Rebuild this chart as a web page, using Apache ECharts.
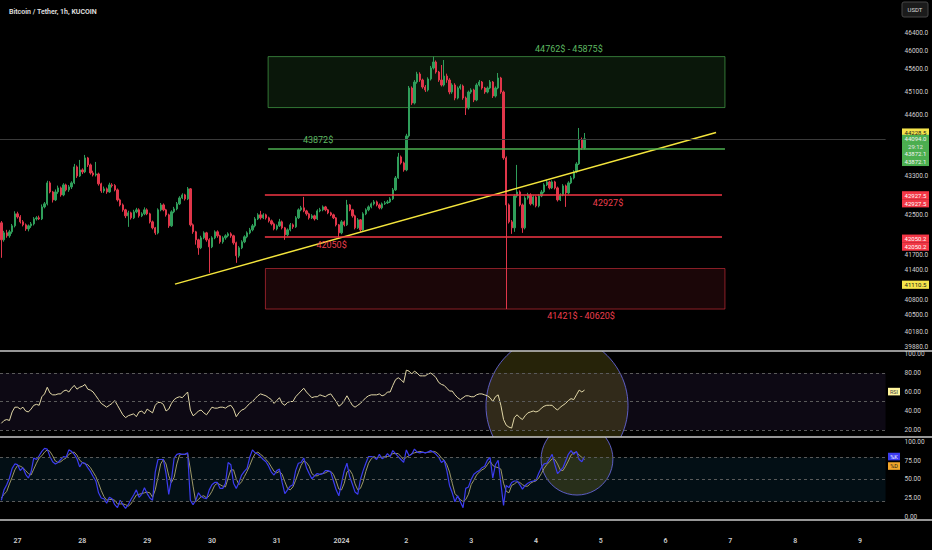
<!DOCTYPE html>
<html><head><meta charset="utf-8">
<script src="https://cdn.jsdelivr.net/npm/echarts@6/dist/echarts.min.js"></script>
<style>html,body{margin:0;padding:0;background:#000;}#c{width:932px;height:550px;}</style>
</head><body><div id="c"></div>
<script>
// ---------------- DATA ----------------
const FIRST_HOUR = -6;            // first candle: 26 Dec 18:00 (hours from 27 Dec 00:00)
const firstOpen = 42343;
const closes = [41998,42139,42079,42160,42282,42527,42465,42363,42302,42220,
42282,42322,42424,42445,42424,42670,42732,43166,42979,42814,
42979,43062,42917,43125,43021,43083,43166,43500,43311,43437,
43395,43689,43542,43374,43332,43353,43146,43000,43042,42979,
43125,43110,43021,42814,42711,42609,42486,42547,42445,42568,
42609,42486,42527,42609,42527,42363,42241,42139,42609,42711,
42609,42506,42282,42568,42629,42732,42855,42917,42835,43042,
42302,42160,41998,41836,42038,42139,41998,41856,42038,42160,
42079,41957,42038,42079,42119,42079,41937,41676,41836,41957,
42059,42139,42200,42282,42424,42506,42445,42506,42445,42384,
42322,42220,42282,42363,42241,42099,42200,42302,42261,42445,
42609,42650,42588,42527,42445,42486,42424,42588,42609,42670,
42609,42547,42506,42445,42302,42139,42363,42302,42711,42609,
42486,42241,42404,42200,42527,42609,42670,42732,42773,42711,
42650,42732,42752,42773,42835,43021,43270,43710,43584,43437,
44154,45186,44861,45317,45492,45361,45208,45143,45383,45624,
45756,45536,45361,45252,45448,45361,45099,45252,44969,45186,
45230,44969,44753,45099,45143,44926,45252,45317,45186,45099,
45186,45317,45012,45186,45405,45099,43689,42711,42363,42241,
42896,42979,42711,42241,42855,42917,42732,42876,42691,42896,
42979,43125,43187,43062,43187,43062,42814,42917,43104,42958,
43166,43270,43395,43563,44069,43899,44094];
const highs = [42380,42180,42200,42200,42320,42580,42570,42500,42400,42330,
42310,42360,42460,42480,42490,42720,42770,43210,43200,43000,
43030,43110,43090,43160,43150,43120,43200,43563,43530,43647,
43470,43752,43710,43570,43420,43605,43380,43170,43090,43070,
43170,43160,43140,43050,42840,42740,42630,42590,42570,42610,
42650,42640,42560,42660,42640,42550,42390,42260,42640,42750,
42740,42630,42530,42600,42670,42770,42890,42950,42940,43080,
43060,42330,42180,42020,42080,42170,42160,42030,42070,42190,
42190,42100,42070,42110,42150,42150,42100,41960,41870,41990,
42090,42170,42240,42320,42460,42540,42588,42540,42530,42470,
42410,42350,42310,42424,42390,42260,42230,42340,42330,42480,
42640,42690,42876,42610,42550,42520,42510,42620,42650,42700,
42690,42630,42570,42530,42460,42320,42400,42390,42814,42730,
42630,42510,42440,42420,42560,42640,42700,42760,42810,42800,
42740,42760,42790,42810,42870,43060,43310,43794,43740,43610,
44200,45230,45220,45360,45540,45530,45390,45250,45420,45670,
45875,45790,45560,45690,45800,45500,45400,45290,45290,45220,
45270,45260,45000,45130,45180,45170,45290,45360,45340,45210,
45220,45360,45340,45220,45514,45430,45130,43720,42740,42400,
42930,43542,43010,42740,42890,42960,42950,42910,42900,42930,
43020,43160,43230,43210,43220,43210,43090,42950,43140,43130,
43200,43310,43430,43600,44324,44120,44217];
const lows = [41636,41960,42040,42040,42120,42250,42430,42330,42270,42180,
42170,42240,42290,42390,42400,42400,42640,42700,42950,42760,
42790,42940,42880,42890,42990,42980,43040,43140,43270,43290,
43350,43370,43500,43340,43300,43300,43110,42960,42960,42940,
42960,43070,42990,42780,42680,42570,42440,42261,42410,42420,
42540,42450,42460,42500,42500,42330,42210,42099,42110,42580,
42580,42470,42241,42260,42540,42600,42710,42830,42800,42810,
42270,42120,41900,41696,41810,42010,41960,41336,41830,42010,
42040,41920,41920,42000,42050,42040,41900,41535,41640,41810,
41930,42030,42110,42170,42250,42400,42410,42420,42410,42350,
42290,42190,42190,42260,42210,41998,42070,42170,42220,42240,
42420,42580,42560,42490,42410,42420,42390,42400,42560,42580,
42580,42520,42480,42420,42270,42038,42110,42270,42280,42580,
42450,42210,42220,42160,42180,42500,42580,42640,42700,42680,
42620,42620,42710,42730,42750,42810,43000,43250,43550,43400,
43410,44120,44820,44830,45280,45320,45170,45100,45110,45350,
45590,45500,45320,45220,45220,45300,45050,45060,44920,44940,
45150,44930,44602,44720,45060,44880,44900,45220,45150,45060,
45070,45160,44970,44980,45160,45060,43650,40620,42330,42119,
42160,42860,42680,42139,42210,42820,42700,42700,42660,42660,
42870,42950,43100,43030,43040,43030,42780,42790,42890,42670,
42930,43140,43240,43370,43540,43860,43870];
const rsi = [27,30,31,30,39,44,44,42,44,40, 39,42,46,47,46,55,58,65,59,57,
57,58,58,61,62,60,64,67,63,65, 66,68,63,62,60,56,52,48,46,44,
46,48,51,46,41,36,33,35,36,37, 34,39,40,37,42,40,38,46,49,49,
47,40,42,48,52,54,55,54,57,60, 41,35,37,40,41,38,36,40,44,43,
43,44,44,43,45,46,42,34,38,41, 42,45,48,50,53,56,58,57,56,54,
52,48,51,54,48,46,49,50,50,55, 58,61,64,60,57,54,55,55,57,56,
55,57,58,54,50,45,47,51,56,51, 46,44,46,48,51,54,56,57,57,57,
58,56,57,60,60,67,73,75,73,70, 83,82,79,82,80,77,77,77,79,80,
78,75,70,68,67,64,61,61,57,54, 52,54,56,56,55,55,57,58,58,57,
56,54,50,55,57,46,31,25,23,22, 33,36,33,31,35,38,39,40,39,40,
43,45,46,46,46,43,41,44,46,48, 51,53,52,57,62,60,62];
const stochK = [22,36,43,52,65,71,70,62,66,57, 52,60,79,77,82,88,92,91,81,74,
71,73,77,81,80,90,88,84,78,67, 73,72,66,61,54,48,32,25,24,18,
26,24,16,12,22,16,11,16,23,29, 36,26,30,39,31,25,22,60,77,77,
77,58,30,50,79,84,85,84,84,86, 22,16,22,32,27,25,24,36,43,46,
46,38,38,45,73,70,45,38,46,56, 61,65,80,90,86,84,81,77,74,68,
60,56,62,64,46,31,36,41,43,62, 72,73,79,66,58,51,55,58,57,58,
62,62,60,48,36,28,45,62,72,54, 44,33,30,50,62,72,81,81,80,77,
84,78,80,85,81,89,85,81,77,73, 90,82,84,91,87,86,87,86,87,89,
87,84,80,73,76,62,42,32,20,28, 20,12,38,40,50,57,60,62,66,68,
76,80,52,70,76,45,15,42,39,46, 48,48,43,37,42,45,47,48,49,58,
66,71,72,78,84,70,58,62,66,75, 84,89,84,88,77,74,81];
const stochD = [25,30,34,44,53,63,69,68,66,62, 58,56,64,72,79,82,87,90,88,82,
75,73,74,77,79,84,86,87,83,76, 73,71,70,66,60,54,45,35,27,22,
23,23,22,17,17,17,16,14,17,23, 29,30,31,32,33,32,26,36,53,71,
77,71,55,46,53,71,83,84,84,85, 64,41,20,23,27,28,25,28,34,42,
45,43,41,40,52,63,63,51,43,47, 54,61,69,78,85,87,84,81,77,73,
67,61,59,61,57,47,38,36,40,49, 59,69,75,73,68,58,55,55,57,58,
59,61,61,57,48,37,36,45,60,63, 57,44,36,38,47,61,72,78,81,79,
80,80,81,81,82,85,85,85,81,77, 80,82,85,86,87,88,87,86,87,87,
88,87,84,79,76,70,60,45,31,27, 23,20,23,30,43,49,56,60,63,65,
70,75,69,67,66,64,45,34,32,42, 44,47,46,43,41,41,45,47,48,52,
58,65,70,74,78,77,71,63,62,68, 75,83,86,87,83,80,77];

const dayTicks  = [0,24,48,72,96,120,144,168,192,216,240,264,288,312];
const dayLabels = ['27','28','29','30','31','2024','2','3','4','5','6','7','8','9'];
const priceTicks = [46400,46000,45600,45100,44600,43300,42500,41700,41400,40800,40500,40180,39880];
const rsiTicks = [20,40,60,80,100];
const stochTicks = [0,25,50,75,100];

// drawings (in data coordinates: hours, price)
const zoneHours = [92.8, 262.0];
const greenZone = [44762, 45875];
const redZone = [40620, 41421];
const redZoneHours = [91.8, 262.0];
const levelGreen = 43872.1;
const levelsRed = [42927.5, 42050.2];
const levelRedHours = [91.6, 260.9];
const trendLine = [[58.3, 41110.5], [258.7, 44228.5]];
const zoneTexts = [
  {name:'44762$ - 45875$', coord:[204.2, 46044], color:'#5db861'},
  {name:'43872$', coord:[111.3, 44069], color:'#5db861'},
  {name:'42927$', coord:[218.7, 42740], color:'#ec3f4d'},
  {name:'42050$', coord:[116.3, 41886], color:'#ec3f4d'},
  {name:'41421$ - 40620$', coord:[208.7, 40490], color:'#ec3f4d'}
];
const rsiCircle = {center:[199.8, 45.5], rHours:26.3};
const stochCircle = {center:[207.2, 77.5], rHours:13.3};

// ---------------- BUILD ----------------
const UP = '#2f9e5a', DOWN = '#e0364a';
const FONT = 'Roboto, "Noto Sans", sans-serif';
const hours = closes.map((_, i) => FIRST_HOUR + i);
const opens = closes.map((c, i) => i === 0 ? firstOpen : closes[i - 1]);
const candles = closes.map((c, i) => [hours[i], opens[i], c, lows[i], highs[i]]);
const X_MIN = -6.5, X_MAX = 321.5;
const GRID_R = 46.4;

function xAxis(k) {
  return {
    gridIndex: k, type: 'value', min: X_MIN, max: X_MAX, show: k === 2,
    axisLine: {show: false}, axisTick: {show: false}, splitLine: {show: false},
    axisLabel: {show: k === 2, customValues: dayTicks, formatter: v => dayLabels[Math.round(v / 24)],
      color: '#cfcfcf', fontSize: 7, fontWeight: 600, margin: 17, fontFamily: FONT}
  };
}
function yLabel(ticks, dec) {
  return {customValues: ticks, formatter: v => Number(v).toFixed(dec), color: '#d0d0d0',
    fontSize: 6.5, margin: 19, align: 'left', fontFamily: FONT};
}
function circleItem(rHours) {
  return function (params, api) {
    const c = api.coord([api.value(0), api.value(1)]);
    const r = api.size([rHours, 0])[0];
    return {type: 'circle', shape: {cx: c[0], cy: c[1], r: r},
      style: {fill: 'rgba(255,235,59,0.15)', stroke: 'rgba(105,105,225,0.85)', lineWidth: 1}};
  };
}
const dashed = {symbol: ['none', 'none'], silent: true, label: {show: false},
  lineStyle: {color: '#5a5a5a', type: [3, 3], width: 1}, data: [{yAxis: 80}, {yAxis: 50}, {yAxis: 20}]};

const chart = echarts.init(document.getElementById('c'), null, {renderer: 'svg', width: 932, height: 550});
chart.setOption({
  backgroundColor: '#000',
  animation: false,
  title: {text: 'Bitcoin / Tether, 1h, KUCOIN', left: 4, top: 3,
    textStyle: {color: '#e2e2e2', fontSize: 7, fontWeight: 600, fontFamily: FONT}},
  grid: [
    {left: 0, right: GRID_R, top: 0, height: 350},
    {left: 0, right: GRID_R, top: 351, height: 86},
    {left: 0, right: GRID_R, top: 437, height: 83}
  ],
  xAxis: [xAxis(0), xAxis(1), xAxis(2)],
  yAxis: [
    {gridIndex: 0, type: 'log', logBase: 10, min: 39826, max: 47144, position: 'right',
      axisLine: {show: false}, axisTick: {show: false}, splitLine: {show: false}, axisLabel: yLabel(priceTicks, 1)},
    {gridIndex: 1, type: 'value', min: 12.6, max: 103.2, position: 'right',
      axisLine: {show: false}, axisTick: {show: false}, splitLine: {show: false}, axisLabel: yLabel(rsiTicks, 2)},
    {gridIndex: 2, type: 'value', min: -4.7, max: 107.4, position: 'right',
      axisLine: {show: false}, axisTick: {show: false}, splitLine: {show: false}, axisLabel: yLabel(stochTicks, 2)}
  ],
  series: [
    {
      type: 'candlestick', xAxisIndex: 0, yAxisIndex: 0, data: candles,
      encode: {x: 0, y: [1, 2, 3, 4]}, barWidth: 1.8, clip: true, z: 3,
      itemStyle: {color: UP, color0: DOWN, borderColor: UP, borderColor0: DOWN, borderWidth: 1},
      markArea: {silent: true, data: [
        [{coord: [zoneHours[0], greenZone[1]], itemStyle: {color: 'rgba(76,175,80,0.13)', borderColor: 'rgba(76,175,80,0.65)', borderWidth: 1}},
         {coord: [zoneHours[1], greenZone[0]]}],
        [{coord: [redZoneHours[0], redZone[1]], itemStyle: {color: 'rgba(242,54,69,0.11)', borderColor: 'rgba(242,54,69,0.55)', borderWidth: 1}},
         {coord: [redZoneHours[1], redZone[0]]}]
      ]},
      markLine: {symbol: ['none', 'none'], silent: true, label: {show: false}, data: [
        {yAxis: closes[closes.length - 1], lineStyle: {color: '#3a3a3a', width: 1, type: 'solid'}},
        [{coord: [zoneHours[0], levelGreen], lineStyle: {color: '#4caf50', width: 1.5, type: 'solid'}}, {coord: [zoneHours[1], levelGreen]}],
        [{coord: [levelRedHours[0], levelsRed[0]], lineStyle: {color: '#f23645', width: 1.5, type: 'solid'}}, {coord: [levelRedHours[1], levelsRed[0]]}],
        [{coord: [levelRedHours[0], levelsRed[1]], lineStyle: {color: '#f23645', width: 1.5, type: 'solid'}}, {coord: [levelRedHours[1], levelsRed[1]]}]
      ]},
      markPoint: {symbol: 'circle', symbolSize: 1, silent: true, itemStyle: {color: 'rgba(0,0,0,0)'},
        data: zoneTexts.map(t => ({name: t.name, coord: t.coord,
          label: {show: true, position: 'inside', formatter: t.name, color: t.color, fontSize: 9, fontFamily: FONT}}))}
    },
    {type: 'line', xAxisIndex: 0, yAxisIndex: 0, data: trendLine, symbol: 'none', z: 4,
      lineStyle: {color: '#f4e53c', width: 1.5}},
    {type: 'custom', xAxisIndex: 1, yAxisIndex: 1, clip: true, z: 1, data: [rsiCircle.center], renderItem: circleItem(rsiCircle.rHours)},
    {type: 'line', xAxisIndex: 1, yAxisIndex: 1, data: hours.map((h, i) => [h, rsi[i]]), symbol: 'none', z: 3,
      lineStyle: {color: '#e2d8a8', width: 1},
      markArea: {silent: true, data: [[{yAxis: 20, itemStyle: {color: 'rgba(126,87,194,0.10)'}}, {yAxis: 80}]]},
      markLine: dashed},
    {type: 'custom', xAxisIndex: 2, yAxisIndex: 2, clip: true, z: 1, data: [stochCircle.center], renderItem: circleItem(stochCircle.rHours)},
    {type: 'line', xAxisIndex: 2, yAxisIndex: 2, data: hours.map((h, i) => [h, stochD[i]]), symbol: 'none', z: 3,
      lineStyle: {color: '#9d9868', width: 1},
      markArea: {silent: true, data: [[{yAxis: 20, itemStyle: {color: 'rgba(33,150,210,0.10)'}}, {yAxis: 80}]]},
      markLine: dashed},
    {type: 'line', xAxisIndex: 2, yAxisIndex: 2, data: hours.map((h, i) => [h, stochK[i]]), symbol: 'none', z: 4,
      lineStyle: {color: '#3c3cf0', width: 1.2}}
  ]
});

// ---------------- chrome: price tags, separators ----------------
const last = closes.length - 1;
const py = p => chart.convertToPixel({yAxisIndex: 0}, p);
const YEL = '#f5e44b', GRN = '#4caf50', RED = '#f23645';
const tags = [
  {text: trendLine[1][1].toFixed(1), y: py(trendLine[1][1]), bg: YEL, fg: '#1a1a1a'},
  {text: closes[last].toFixed(1), y: py(closes[last]), bg: GRN, fg: '#f2f2f2'},
  {text: '29:12', y: py(closes[last]) + 7.7, bg: GRN, fg: '#e6e6e6'},
  {text: levelGreen.toFixed(1), y: py(levelGreen) + 4.6, bg: GRN, fg: '#f2f2f2'},
  {text: levelGreen.toFixed(1), y: py(levelGreen) + 12.6, bg: GRN, fg: '#f2f2f2'},
  {text: levelsRed[0].toFixed(1), y: py(levelsRed[0]) + 0.8, bg: RED, fg: '#fff'},
  {text: levelsRed[0].toFixed(1), y: py(levelsRed[0]) + 8.8, bg: RED, fg: '#fff'},
  {text: levelsRed[1].toFixed(1), y: py(levelsRed[1]) + 1.3, bg: RED, fg: '#fff'},
  {text: levelsRed[1].toFixed(1), y: py(levelsRed[1]) + 9.3, bg: RED, fg: '#fff'},
  {text: trendLine[0][1].toFixed(1), y: py(trendLine[0][1]) + 0.5, bg: YEL, fg: '#1a1a1a'}
];
const g = [];
tags.forEach(t => {
  g.push({type: 'rect', shape: {x: 902, y: t.y - 4, width: 27, height: 8.2}, style: {fill: t.bg}, z: 50});
  g.push({type: 'text', x: 915.5, y: t.y, z: 51, style: {text: t.text, fill: t.fg, fontSize: 6, fontFamily: FONT, align: 'center', verticalAlign: 'middle'}});
});
const rsiY = chart.convertToPixel({yAxisIndex: 1}, rsi[last]);
const kY = chart.convertToPixel({yAxisIndex: 2}, stochK[last]);
const dY = Math.max(chart.convertToPixel({yAxisIndex: 2}, stochD[last]), kY + 8.5);
[[ 'RSI', rsiY + 1.5, '#fff59d', '#444' ], ['%K', kY, '#3c3cf0', '#fff'], ['%D', dY + 1, '#f2a62a', '#222']].forEach(a => {
  g.push({type: 'rect', shape: {x: 888, y: a[1] - 3.8, width: 12, height: 7.6}, style: {fill: a[2]}, z: 50});
  g.push({type: 'text', x: 894, y: a[1], z: 51, style: {text: a[0], fill: a[3], fontSize: 5.5, fontFamily: FONT, align: 'center', verticalAlign: 'middle'}});
});
[351, 437, 520].forEach(y => g.push({type: 'line', shape: {x1: 0, y1: y, x2: 932, y2: y}, style: {stroke: '#c8c8c8', lineWidth: 1.5}, z: 40}));
g.push({type: 'rect', shape: {x: 902, y: 2, width: 26, height: 15, r: 2}, style: {fill: '#1b1b1b', stroke: '#474747', lineWidth: 1}, z: 50});
g.push({type: 'text', x: 915, y: 9.5, z: 51, style: {text: 'USDT', fill: '#dcdcdc', fontSize: 6, fontFamily: FONT, align: 'center', verticalAlign: 'middle'}});
chart.setOption({graphic: g});
</script>
</body></html>
